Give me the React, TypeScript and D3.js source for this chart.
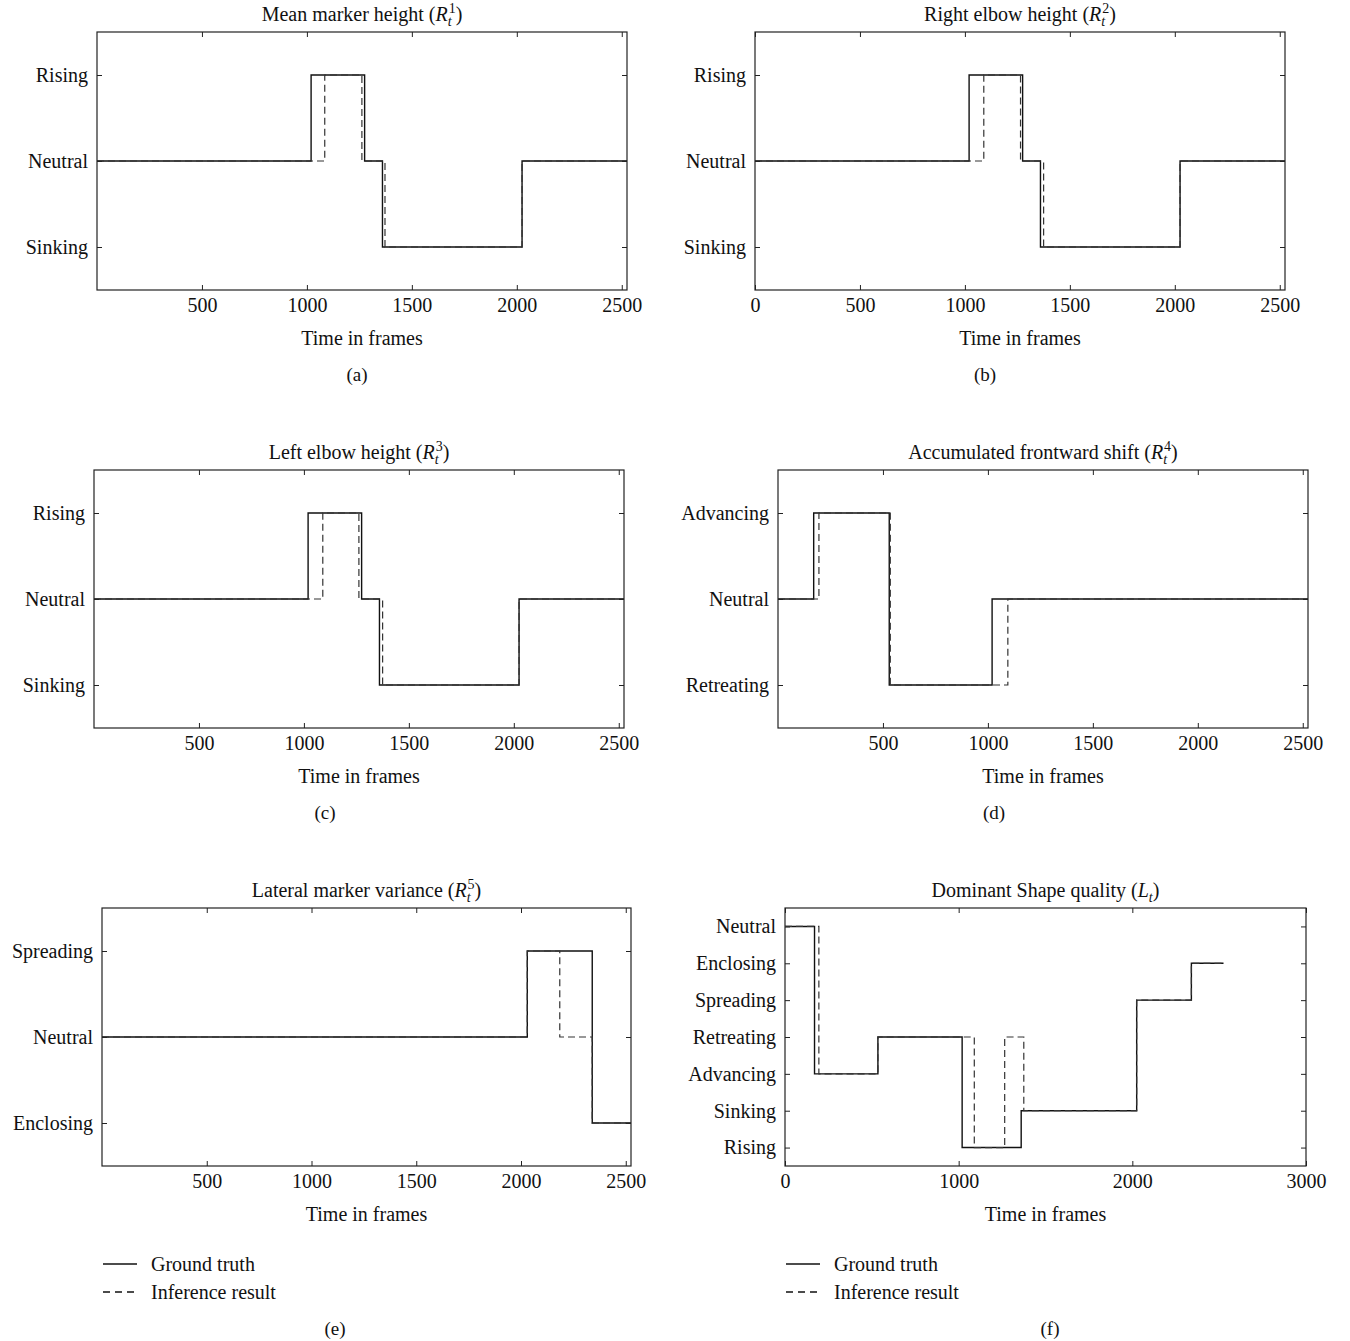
import * as d3 from "d3";
import { useEffect, useRef } from "react";

type Step = [number, string];

const FONT = '"Liberation Serif", "Times New Roman", serif';

// state labels, listed bottom to top
const heightStates = ["Sinking", "Neutral", "Rising"];
const shiftStates = ["Retreating", "Neutral", "Advancing"];
const spreadStates = ["Enclosing", "Neutral", "Spreading"];
const shapeStates = ["Rising", "Sinking", "Advancing", "Retreating", "Spreading", "Enclosing", "Neutral"];

const frameTicks = [500, 1000, 1500, 2000, 2500];
const frameTicksZero = [0, 500, 1000, 1500, 2000, 2500];
const shapeTicks = [0, 1000, 2000, 3000];

// step series: [frame where state starts, state]
const truthR1: Step[] = [[0, "Neutral"], [1020, "Rising"], [1275, "Neutral"], [1360, "Sinking"], [2025, "Neutral"], [2525, "Neutral"]];
const inferR1: Step[] = [[0, "Neutral"], [1085, "Rising"], [1262, "Neutral"], [1372, "Sinking"], [2025, "Neutral"], [2525, "Neutral"]];

const truthR2: Step[] = [[0, "Neutral"], [1020, "Rising"], [1275, "Neutral"], [1360, "Sinking"], [2025, "Neutral"], [2525, "Neutral"]];
const inferR2: Step[] = [[0, "Neutral"], [1090, "Rising"], [1265, "Neutral"], [1375, "Sinking"], [2025, "Neutral"], [2525, "Neutral"]];

const truthR3: Step[] = [[0, "Neutral"], [1020, "Rising"], [1275, "Neutral"], [1360, "Sinking"], [2025, "Neutral"], [2525, "Neutral"]];
const inferR3: Step[] = [[0, "Neutral"], [1090, "Rising"], [1262, "Neutral"], [1375, "Sinking"], [2025, "Neutral"], [2525, "Neutral"]];

const truthR4: Step[] = [[0, "Neutral"], [170, "Advancing"], [530, "Retreating"], [1020, "Neutral"], [2525, "Neutral"]];
const inferR4: Step[] = [[0, "Neutral"], [195, "Advancing"], [535, "Retreating"], [1095, "Neutral"], [2525, "Neutral"]];

const truthR5: Step[] = [[0, "Neutral"], [2030, "Spreading"], [2340, "Enclosing"], [2525, "Enclosing"]];
const inferR5: Step[] = [[0, "Neutral"], [2030, "Spreading"], [2185, "Neutral"], [2340, "Enclosing"], [2525, "Enclosing"]];

const truthL: Step[] = [[0, "Neutral"], [170, "Advancing"], [535, "Retreating"], [1020, "Rising"], [1360, "Sinking"], [2025, "Spreading"], [2340, "Enclosing"], [2525, "Enclosing"]];
const inferL: Step[] = [[0, "Neutral"], [195, "Advancing"], [535, "Retreating"], [1090, "Rising"], [1265, "Retreating"], [1375, "Sinking"], [2025, "Spreading"], [2340, "Enclosing"], [2525, "Enclosing"]];

const panels = [
  { key: "a", title: "Mean marker height", sym: "R", sup: "1", left: 97, top: 32, width: 530, xMax: 2525, ticks: frameTicks, states: heightStates, truth: truthR1, infer: inferR1, legend: false, capX: 260 },
  { key: "b", title: "Right elbow height", sym: "R", sup: "2", left: 755, top: 32, width: 530, xMax: 2525, ticks: frameTicksZero, states: heightStates, truth: truthR2, infer: inferR2, legend: false, capX: 230 },
  { key: "c", title: "Left elbow height", sym: "R", sup: "3", left: 94, top: 470, width: 530, xMax: 2525, ticks: frameTicks, states: heightStates, truth: truthR3, infer: inferR3, legend: false, capX: 231 },
  { key: "d", title: "Accumulated frontward shift", sym: "R", sup: "4", left: 778, top: 470, width: 530, xMax: 2525, ticks: frameTicks, states: shiftStates, truth: truthR4, infer: inferR4, legend: false, capX: 216 },
  { key: "e", title: "Lateral marker variance", sym: "R", sup: "5", left: 102, top: 908, width: 529, xMax: 2525, ticks: frameTicks, states: spreadStates, truth: truthR5, infer: inferR5, legend: true, capX: 233 },
  { key: "f", title: "Dominant Shape quality", sym: "L", sup: null, left: 785, top: 908, width: 521, xMax: 3000, ticks: shapeTicks, states: shapeStates, truth: truthL, infer: inferL, legend: true, capX: 265 },
];

const plotHeight = 258;

const StepPanel = ({ p }) => {
  const gRef = useRef(null);
  const w = p.width;
  const h = plotHeight;

  useEffect(() => {
    const g = d3.select(gRef.current);
    g.selectAll("*").remove();

    const x = d3.scaleLinear().domain([0, p.xMax]).range([0, w]);
    const y = d3.scalePoint().domain(p.states).range([h, 0]).padding(0.5);

    const styleAxis = (sel) => {
      sel.select(".domain").remove();
      sel.attr("font-family", FONT).attr("font-size", 20);
      sel.selectAll("text").attr("fill", "#111");
      sel.selectAll("line").attr("stroke", "#222");
    };

    g.append("g")
      .attr("transform", `translate(0, ${h})`)
      .call(
        d3.axisBottom(x).tickValues(p.ticks).tickFormat(d3.format("d"))
          .tickSizeInner(-5).tickSizeOuter(0).tickPadding(8)
      )
      .call(styleAxis);
    g.append("g")
      .call(d3.axisTop(x).tickValues(p.ticks).tickSizeInner(-5).tickSizeOuter(0).tickFormat(() => ""))
      .call(styleAxis);
    g.append("g")
      .call(d3.axisLeft(y).tickSizeInner(-5).tickSizeOuter(0).tickPadding(9))
      .call(styleAxis);
    g.append("g")
      .attr("transform", `translate(${w}, 0)`)
      .call(d3.axisRight(y).tickSizeInner(-5).tickSizeOuter(0).tickFormat(() => ""))
      .call(styleAxis);

    g.append("rect")
      .attr("width", w)
      .attr("height", h)
      .attr("fill", "none")
      .attr("stroke", "#222")
      .attr("stroke-width", 1.2);

    const line = d3
      .line<Step>()
      .x((d) => x(d[0]))
      .y((d) => y(d[1]))
      .curve(d3.curveStepAfter);

    g.append("path")
      .datum(p.truth)
      .attr("d", line)
      .attr("fill", "none")
      .attr("stroke", "#111")
      .attr("stroke-width", 1.4);

    g.append("path")
      .datum(p.infer)
      .attr("d", line)
      .attr("fill", "none")
      .attr("stroke", "#333")
      .attr("stroke-width", 1.2)
      .attr("stroke-dasharray", "7,4");
  }, [p, w, h]);

  const cx = w / 2;

  return (
    <g transform={`translate(${p.left}, ${p.top})`} fontFamily={FONT} fill="#111">
      <text x={cx} y={-11} textAnchor="middle" fontSize={20}>
        {p.title} (<tspan fontStyle="italic">{p.sym}</tspan>
        <tspan fontStyle="italic" fontSize={14} dy={5}>t</tspan>
        {p.sup ? (
          <>
            <tspan fontSize={14} dx={-3} dy={-13}>{p.sup}</tspan>
            <tspan dy={8}>)</tspan>
          </>
        ) : (
          <tspan dy={-5}>)</tspan>
        )}
      </text>
      <g ref={gRef} />
      <text x={cx} y={h + 55} textAnchor="middle" fontSize={20}>
        Time in frames
      </text>
      {p.legend && (
        <g transform={`translate(1, ${h + 98})`} fontSize={20}>
          <line x1={0} x2={34} y1={0} y2={0} stroke="#111" strokeWidth={1.3} />
          <text x={48} y={7}>Ground truth</text>
          <line x1={0} x2={34} y1={28} y2={28} stroke="#111" strokeWidth={1.3} strokeDasharray="7,5" />
          <text x={48} y={35}>Inference result</text>
        </g>
      )}
      <text x={p.capX} y={p.legend ? h + 169 : h + 91} textAnchor="middle" fontSize={19}>
        ({p.key})
      </text>
    </g>
  );
};

export default function App() {
  return (
    <svg
      width={1350}
      height={1341}
      style={{ position: "absolute", left: 0, top: 0, background: "#fff" }}
    >
      {panels.map((p) => (
        <StepPanel key={p.key} p={p} />
      ))}
    </svg>
  );
}
